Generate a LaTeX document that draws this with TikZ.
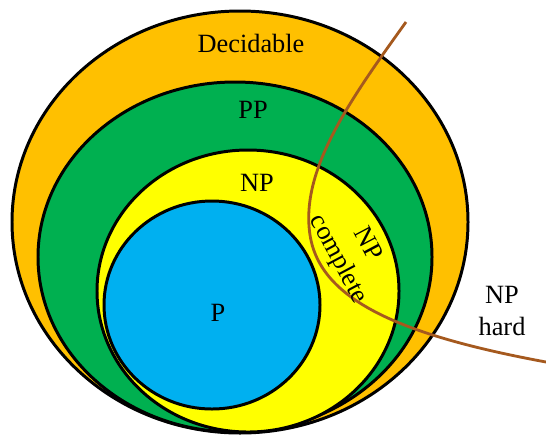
\documentclass[tikz,border=0pt]{standalone}
\usepackage{fontspec}
\setmainfont{Liberation Serif}
\definecolor{decorange}{HTML}{FFC000}
\definecolor{ppgreen}{HTML}{00B050}
\definecolor{npyellow}{HTML}{FFFF00}
\definecolor{pblue}{HTML}{00B0F0}
\definecolor{hardbrown}{HTML}{A5591E}

\begin{document}
\begin{tikzpicture}[x=0.02cm, y=-0.02cm, every node/.style={font=\fontsize{15}{18.5}\selectfont, align=center}, classset/.style={draw=black, line width=1.7pt}, hardline/.style={draw=hardbrown, line width=1.6pt}]
	\useasboundingbox (0,0) rectangle (546,437);
	\foreach \cx/\cy/\rx/\ry/\c in {240/222/228/211/decorange, 235/257/197/175/ppgreen, 248/291/151/141/npyellow, 212/305/108/104/pblue}
		{\filldraw[classset, fill=\c] (\cx,\cy) ellipse ({\rx} and {\ry});}
	\coordinate (hardtop) at (406,22);
	\coordinate (hardbend) at (310,235);
	\coordinate (hardend) at (546,362);
	\draw[hardline] (hardtop) .. controls (350,100) and (300,170) .. (hardbend) .. controls (320,300) and (400,335) .. (hardend);
	\node (decidable) at (251,43) {Decidable};
	\node (pp) at (253,110) {PP};
	\node (np) at (257,183) {NP};
	\node (p) at (218,313) {P};
	\node[rotate=-62] (npcomplete) at (352,252) {NP\\complete};
	\node (nphard) at (502,311) {NP\\hard};
\end{tikzpicture}
\end{document}
